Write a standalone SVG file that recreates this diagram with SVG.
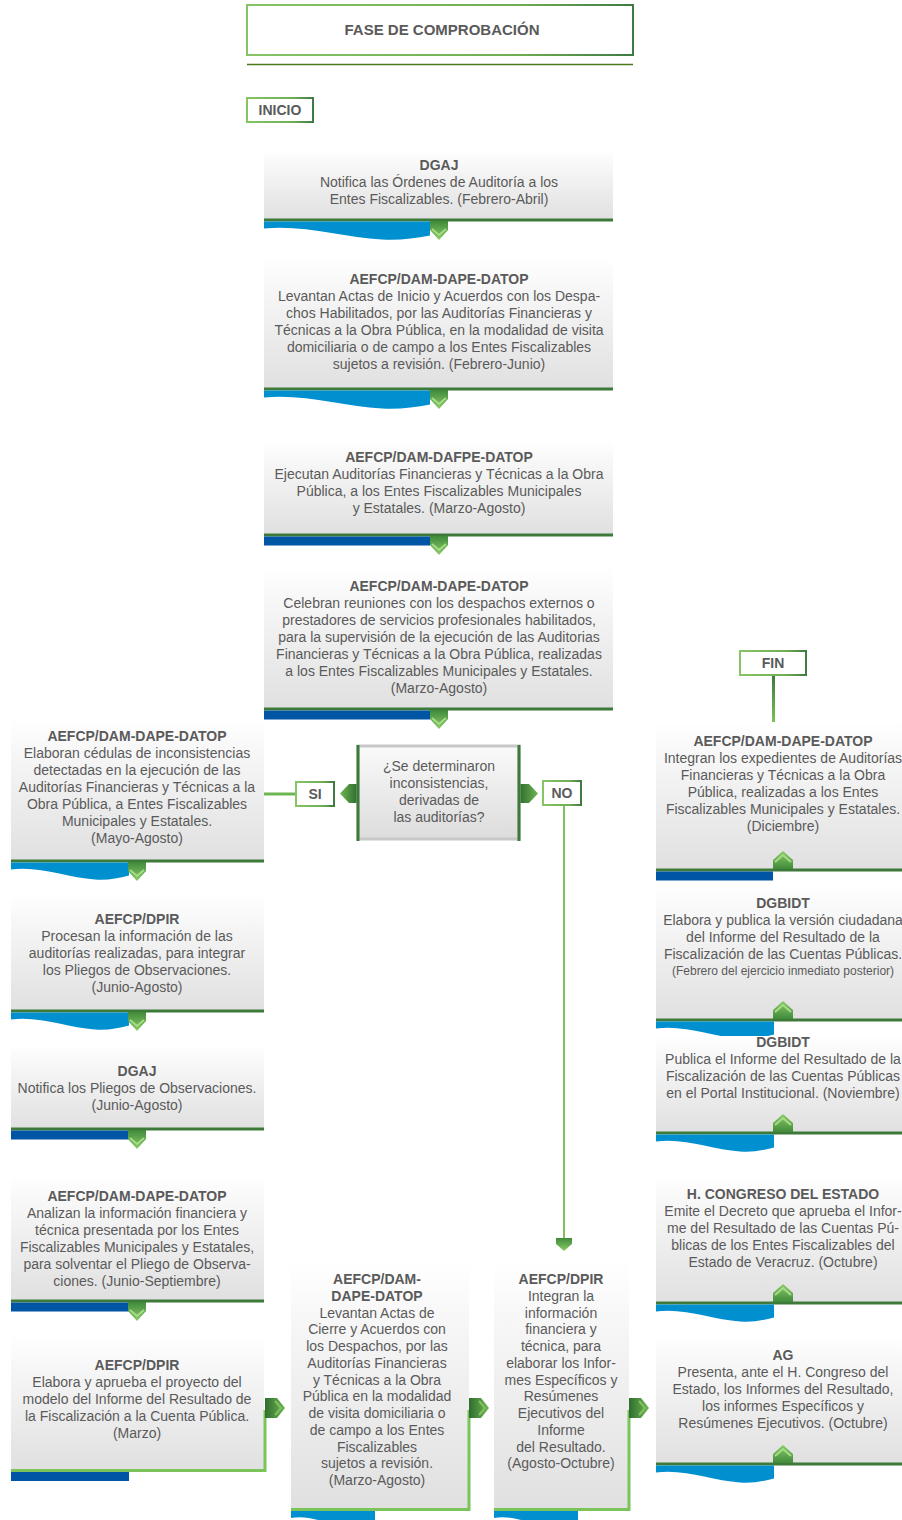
<svg xmlns="http://www.w3.org/2000/svg" xmlns:xlink="http://www.w3.org/1999/xlink" width="902" height="1520" viewBox="0 0 902 1520">
<defs>
<linearGradient id="boxg" x1="0" y1="0" x2="0" y2="1"><stop offset="0" stop-color="#ffffff"/><stop offset="0.2" stop-color="#f8f8f8"/><stop offset="1" stop-color="#e0e0e0"/></linearGradient>
<linearGradient id="decg" x1="0" y1="0" x2="0" y2="1"><stop offset="0" stop-color="#fafafa"/><stop offset="1" stop-color="#dcdcdc"/></linearGradient>
<linearGradient id="hdr" x1="0" y1="0" x2="1" y2="0"><stop offset="0" stop-color="#86c466"/><stop offset="0.7" stop-color="#6fae52"/><stop offset="1" stop-color="#3f7a45"/></linearGradient>
<linearGradient id="chd" x1="0" y1="0" x2="0" y2="1"><stop offset="0" stop-color="#3f8a3a"/><stop offset="1" stop-color="#8ccc6a"/></linearGradient>
<linearGradient id="chu" x1="0" y1="1" x2="0" y2="0"><stop offset="0" stop-color="#3f8a3a"/><stop offset="1" stop-color="#8ccc6a"/></linearGradient>
<linearGradient id="chr" x1="0" y1="0" x2="1" y2="0"><stop offset="0" stop-color="#2f6e30"/><stop offset="1" stop-color="#6fb552"/></linearGradient>
<linearGradient id="chl" x1="1" y1="0" x2="0" y2="0"><stop offset="0" stop-color="#2f6e30"/><stop offset="1" stop-color="#6fb552"/></linearGradient>
<linearGradient id="fing" x1="0" y1="0" x2="0" y2="1"><stop offset="0" stop-color="#3f7a3f"/><stop offset="1" stop-color="#7cc35a"/></linearGradient>
<path id="waveM" d="M0,0 H166 V14 C150,17 135,19 118,18 C80,16 40,3 0,7 Z" fill="#0090d0"/>
<path id="waveS" d="M0,0 H118 V13 C106,16 96,18 84,17 C57,15 28,3 0,7 Z" fill="#0090d0"/>
<path id="waveB" d="M0,0 H84 V13 C75,16 68,18 60,17 C40,15 20,3 0,7 Z" fill="#0090d0"/>
<g id="chevD"><path d="M0,0 H18 V9 L9,19 L0,9 Z" fill="url(#chd)"/><path d="M2,8 L9,14 L16,8" fill="none" stroke="#a6dc86" stroke-width="2"/></g>
<g id="chevU"><path d="M0,18 H20 V9 L10,0 L0,9 Z" fill="url(#chu)"/><path d="M2,11 L10,4 L18,11" fill="none" stroke="#a6dc86" stroke-width="2"/></g>
<g id="chevR"><path d="M0,0 H12 L20,10 L12,20 H0 Z" fill="url(#chr)"/><path d="M10,3 L16,10 L10,17" fill="none" stroke="#7fc060" stroke-width="2"/></g>
</defs>
<style>
.t{font-family:"Liberation Sans",Arial,sans-serif;font-size:14px;fill:#5a5a5a;text-anchor:middle}
.b{font-weight:bold}
.sm{font-size:12px}
.box{fill:url(#boxg)}
.bl{stroke:#3d7a3a;stroke-width:3}
.gl{stroke:#7cc35a;stroke-width:3;fill:none}
.bar{fill:#0055a5}
.lbl{fill:#fff;stroke:url(#hdr);stroke-width:2}
</style>

<g id="header">
<rect x="247" y="5" width="386" height="50" fill="#fff" stroke="url(#hdr)" stroke-width="2"/>
<text class="t b" x="442" y="35" style="font-size:15px">FASE DE COMPROBACIÓN</text>
<line x1="247" y1="64.5" x2="633" y2="64.5" stroke="#4a7a1e" stroke-width="1.5"/>
</g>

<g id="inicio">
<rect x="247" y="98" width="66" height="24" class="lbl"/>
<text class="t b" x="280" y="115">INICIO</text>
</g>

<g id="connectors">
<line x1="264" y1="794" x2="296" y2="794" stroke="#6db550" stroke-width="3"/>
<line x1="564" y1="805" x2="564" y2="1240" stroke="#7cc35a" stroke-width="2"/>
<path d="M556,1238 H572 V1244 L564,1251 L556,1244 Z" fill="url(#chd)"/>
<rect x="772" y="676" width="3" height="47" fill="url(#fing)"/>
<path d="M357,784 V803 H349 L340,793.5 L349,784 Z" fill="url(#chl)"/>
<path d="M520,784 V803 H529 L538,793.5 L529,784 Z" fill="url(#chr)"/>
</g>

<g id="n1">
<rect x="264" y="150" width="349" height="70" class="box"/>
<line x1="264" y1="220" x2="613" y2="220" class="bl"/>
<use href="#waveM" x="264" y="221.5"/>
<use href="#chevD" x="430" y="221"/>
<text class="t" x="439" y="170"><tspan class="b">DGAJ</tspan><tspan x="439" dy="17">Notifica las Órdenes de Auditoría a los</tspan><tspan x="439" dy="17">Entes Fiscalizables. (Febrero-Abril)</tspan></text>
</g>

<g id="n2">
<rect x="264" y="258" width="349" height="131" class="box"/>
<line x1="264" y1="389" x2="613" y2="389" class="bl"/>
<use href="#waveM" x="264" y="390.5"/>
<use href="#chevD" x="430" y="390"/>
<text class="t" x="439" y="284"><tspan class="b">AEFCP/DAM-DAPE-DATOP</tspan><tspan x="439" dy="17">Levantan Actas de Inicio y Acuerdos con los Despa-</tspan><tspan x="439" dy="17">chos Habilitados, por las Auditorías Financieras y</tspan><tspan x="439" dy="17">Técnicas a la Obra Pública, en la modalidad de visita</tspan><tspan x="439" dy="17">domiciliaria o de campo a los Entes Fiscalizables</tspan><tspan x="439" dy="17">sujetos a revisión. (Febrero-Junio)</tspan></text>
</g>

<g id="n3">
<rect x="264" y="440" width="349" height="95" class="box"/>
<line x1="264" y1="535" x2="613" y2="535" class="bl"/>
<rect x="264" y="536.5" width="166" height="9" class="bar"/>
<use href="#chevD" x="430" y="536"/>
<text class="t" x="439" y="462"><tspan class="b">AEFCP/DAM-DAFPE-DATOP</tspan><tspan x="439" dy="17">Ejecutan Auditorías Financieras y Técnicas a la Obra</tspan><tspan x="439" dy="17">Pública, a los Entes Fiscalizables Municipales</tspan><tspan x="439" dy="17">y Estatales. (Marzo-Agosto)</tspan></text>
</g>

<g id="n4">
<rect x="264" y="568" width="349" height="141" class="box"/>
<line x1="264" y1="709" x2="613" y2="709" class="bl"/>
<rect x="264" y="710.5" width="166" height="9" class="bar"/>
<use href="#chevD" x="430" y="710"/>
<text class="t" x="439" y="591"><tspan class="b">AEFCP/DAM-DAPE-DATOP</tspan><tspan x="439" dy="17">Celebran reuniones con los despachos externos o</tspan><tspan x="439" dy="17">prestadores de servicios profesionales habilitados,</tspan><tspan x="439" dy="17">para la supervisión de la ejecución de las Auditorias</tspan><tspan x="439" dy="17">Financieras y Técnicas a la Obra Pública, realizadas</tspan><tspan x="439" dy="17">a los Entes Fiscalizables Municipales y Estatales.</tspan><tspan x="439" dy="17">(Marzo-Agosto)</tspan></text>
</g>

<g id="decision">
<rect x="358" y="746" width="161" height="93" fill="url(#decg)" stroke="#c8c8c8" stroke-width="3"/>
<line x1="358" y1="745" x2="358" y2="841" stroke="#3d7a3a" stroke-width="3"/>
<line x1="519" y1="745" x2="519" y2="841" stroke="#3d7a3a" stroke-width="3"/>
<text class="t" x="439" y="771"><tspan>¿Se determinaron</tspan><tspan x="439" dy="17">inconsistencias,</tspan><tspan x="439" dy="17">derivadas de</tspan><tspan x="439" dy="17">las auditorías?</tspan></text>
</g>

<g id="si">
<rect x="296" y="782" width="38" height="24" class="lbl"/>
<text class="t b" x="315" y="799">SI</text>
</g>

<g id="no">
<rect x="543" y="781" width="38" height="24" class="lbl"/>
<text class="t b" x="562" y="798">NO</text>
</g>

<g id="fin">
<rect x="740" y="651" width="66" height="24" class="lbl"/>
<text class="t b" x="773" y="668">FIN</text>
</g>

<g id="l1">
<rect x="11" y="718" width="253" height="143" class="box"/>
<line x1="11" y1="861" x2="264" y2="861" class="bl"/>
<use href="#waveS" x="11" y="862.5"/>
<use href="#chevD" x="128" y="862"/>
<text class="t" x="137" y="741"><tspan class="b">AEFCP/DAM-DAPE-DATOP</tspan><tspan x="137" dy="17">Elaboran cédulas de inconsistencias</tspan><tspan x="137" dy="17">detectadas en la ejecución de las</tspan><tspan x="137" dy="17">Auditorías Financieras y Técnicas a la</tspan><tspan x="137" dy="17">Obra Pública, a Entes Fiscalizables</tspan><tspan x="137" dy="17">Municipales y Estatales.</tspan><tspan x="137" dy="17">(Mayo-Agosto)</tspan></text>
</g>

<g id="l2">
<rect x="11" y="895" width="253" height="116" class="box"/>
<line x1="11" y1="1011" x2="264" y2="1011" class="bl"/>
<use href="#waveS" x="11" y="1012.5"/>
<use href="#chevD" x="128" y="1012"/>
<text class="t" x="137" y="924"><tspan class="b">AEFCP/DPIR</tspan><tspan x="137" dy="17">Procesan la información de las</tspan><tspan x="137" dy="17">auditorías realizadas, para integrar</tspan><tspan x="137" dy="17">los Pliegos de Observaciones.</tspan><tspan x="137" dy="17">(Junio-Agosto)</tspan></text>
</g>

<g id="l3">
<rect x="11" y="1045" width="253" height="84" class="box"/>
<line x1="11" y1="1129" x2="264" y2="1129" class="bl"/>
<rect x="11" y="1130.5" width="118" height="9" class="bar"/>
<use href="#chevD" x="128" y="1130"/>
<text class="t" x="137" y="1076"><tspan class="b">DGAJ</tspan><tspan x="137" dy="17">Notifica los Pliegos de Observaciones.</tspan><tspan x="137" dy="17">(Junio-Agosto)</tspan></text>
</g>

<g id="l4">
<rect x="11" y="1175" width="253" height="126" class="box"/>
<line x1="11" y1="1301" x2="264" y2="1301" class="bl"/>
<rect x="11" y="1302.5" width="118" height="9" class="bar"/>
<use href="#chevD" x="128" y="1302"/>
<text class="t" x="137" y="1201"><tspan class="b">AEFCP/DAM-DAPE-DATOP</tspan><tspan x="137" dy="17">Analizan la información financiera y</tspan><tspan x="137" dy="17">técnica presentada por los Entes</tspan><tspan x="137" dy="17">Fiscalizables Municipales y Estatales,</tspan><tspan x="137" dy="17">para solventar el Pliego de Observa-</tspan><tspan x="137" dy="17">ciones. (Junio-Septiembre)</tspan></text>
</g>

<g id="l5">
<rect x="11" y="1335" width="253" height="136" class="box"/>
<path d="M265,1410 V1470.5 H11" class="gl"/>
<rect x="11" y="1472" width="118" height="9" class="bar"/>
<use href="#chevR" x="265" y="1398"/>
<text class="t" x="137" y="1370"><tspan class="b">AEFCP/DPIR</tspan><tspan x="137" dy="17">Elabora y aprueba el proyecto del</tspan><tspan x="137" dy="17">modelo del Informe del Resultado de</tspan><tspan x="137" dy="17">la Fiscalización a la Cuenta Pública.</tspan><tspan x="137" dy="17">(Marzo)</tspan></text>
</g>

<g id="m1">
<rect x="291" y="1262" width="178" height="248" class="box"/>
<path d="M469,1410 V1509.5 H291" class="gl"/>
<use href="#waveB" x="291" y="1511"/>
<use href="#chevR" x="469" y="1398"/>
<text class="t" x="377" y="1284"><tspan class="b">AEFCP/DAM-</tspan><tspan x="377" dy="16.75" class="b">DAPE-DATOP</tspan><tspan x="377" dy="16.75">Levantan Actas de</tspan><tspan x="377" dy="16.75">Cierre y Acuerdos con</tspan><tspan x="377" dy="16.75">los Despachos, por las</tspan><tspan x="377" dy="16.75">Auditorías Financieras</tspan><tspan x="377" dy="16.75">y Técnicas a la Obra</tspan><tspan x="377" dy="16.75">Pública en la modalidad</tspan><tspan x="377" dy="16.75">de visita domiciliaria o</tspan><tspan x="377" dy="16.75">de campo a los Entes</tspan><tspan x="377" dy="16.75">Fiscalizables</tspan><tspan x="377" dy="16.75">sujetos a revisión.</tspan><tspan x="377" dy="16.75">(Marzo-Agosto)</tspan></text>
</g>

<g id="m2">
<rect x="494" y="1262" width="135" height="248" class="box"/>
<path d="M629,1410 V1509.5 H494" class="gl"/>
<use href="#waveB" x="494" y="1511"/>
<use href="#chevR" x="629" y="1398"/>
<text class="t" x="561" y="1284"><tspan class="b">AEFCP/DPIR</tspan><tspan x="561" dy="16.75">Integran la</tspan><tspan x="561" dy="16.75">información</tspan><tspan x="561" dy="16.75">financiera y</tspan><tspan x="561" dy="16.75">técnica, para</tspan><tspan x="561" dy="16.75">elaborar los Infor-</tspan><tspan x="561" dy="16.75">mes Específicos y</tspan><tspan x="561" dy="16.75">Resúmenes</tspan><tspan x="561" dy="16.75">Ejecutivos del</tspan><tspan x="561" dy="16.75">Informe</tspan><tspan x="561" dy="16.75">del Resultado.</tspan><tspan x="561" dy="16.75">(Agosto-Octubre)</tspan></text>
</g>

<g id="r1">
<rect x="656" y="722" width="246" height="148" class="box"/>
<line x1="656" y1="870" x2="902" y2="870" class="bl"/>
<rect x="656" y="871.5" width="117" height="9" class="bar"/>
<use href="#chevU" x="773" y="851"/>
<text class="t" x="783" y="746"><tspan class="b">AEFCP/DAM-DAPE-DATOP</tspan><tspan x="783" dy="17">Integran los expedientes de Auditorías</tspan><tspan x="783" dy="17">Financieras y Técnicas a la Obra</tspan><tspan x="783" dy="17">Pública, realizadas a los Entes</tspan><tspan x="783" dy="17">Fiscalizables Municipales y Estatales.</tspan><tspan x="783" dy="17">(Diciembre)</tspan></text>
</g>

<g id="r2">
<rect x="656" y="885" width="246" height="135" class="box"/>
<line x1="656" y1="1020" x2="902" y2="1020" class="bl"/>
<use href="#waveS" x="656" y="1021.5"/>
<use href="#chevU" x="773" y="1001"/>
<text class="t" x="783" y="908"><tspan class="b">DGBIDT</tspan><tspan x="783" dy="17">Elabora y publica la versión ciudadana</tspan><tspan x="783" dy="17">del Informe del Resultado de la</tspan><tspan x="783" dy="17">Fiscalización de las Cuentas Públicas.</tspan><tspan x="783" dy="16" class="sm">(Febrero del ejercicio inmediato posterior)</tspan></text>
</g>

<g id="r3">
<rect x="656" y="1036" width="246" height="97" class="box"/>
<line x1="656" y1="1133" x2="902" y2="1133" class="bl"/>
<use href="#waveS" x="656" y="1134.5"/>
<use href="#chevU" x="773" y="1114"/>
<text class="t" x="783" y="1047"><tspan class="b">DGBIDT</tspan><tspan x="783" dy="17">Publica el Informe del Resultado de la</tspan><tspan x="783" dy="17">Fiscalización de las Cuentas Públicas</tspan><tspan x="783" dy="17">en el Portal Institucional. (Noviembre)</tspan></text>
</g>

<g id="r4">
<rect x="656" y="1175" width="246" height="128" class="box"/>
<line x1="656" y1="1303" x2="902" y2="1303" class="bl"/>
<use href="#waveS" x="656" y="1304.5"/>
<use href="#chevU" x="773" y="1284"/>
<text class="t" x="783" y="1199"><tspan class="b">H. CONGRESO DEL ESTADO</tspan><tspan x="783" dy="17">Emite el Decreto que aprueba el Infor-</tspan><tspan x="783" dy="17">me del Resultado de las Cuentas Pú-</tspan><tspan x="783" dy="17">blicas de los Entes Fiscalizables del</tspan><tspan x="783" dy="17">Estado de Veracruz. (Octubre)</tspan></text>
</g>

<g id="r5">
<rect x="656" y="1335" width="246" height="129" class="box"/>
<line x1="656" y1="1464" x2="902" y2="1464" class="bl"/>
<use href="#waveS" x="656" y="1465.5"/>
<use href="#chevU" x="773" y="1445"/>
<text class="t" x="783" y="1360"><tspan class="b">AG</tspan><tspan x="783" dy="17">Presenta, ante el H. Congreso del</tspan><tspan x="783" dy="17">Estado, los Informes del Resultado,</tspan><tspan x="783" dy="17">los informes Específicos y</tspan><tspan x="783" dy="17">Resúmenes Ejecutivos. (Octubre)</tspan></text>
</g>
</svg>
